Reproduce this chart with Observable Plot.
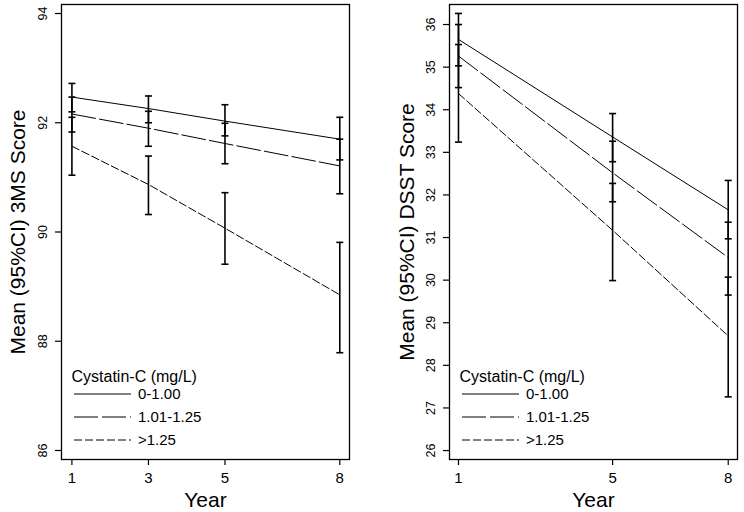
<!DOCTYPE html>
<html><head><meta charset="utf-8">
<script src="https://cdn.jsdelivr.net/npm/d3@7"></script>
<script src="https://cdn.jsdelivr.net/npm/@observablehq/plot@0.6"></script>
<style>
body{margin:0;background:#fff;}
#wrap{display:flex;width:744px;height:512px;overflow:hidden;}
#wrap svg{font-family:"Liberation Sans",Arial,sans-serif;display:block;}
</style></head><body><div id="wrap"></div>
<script>
// ---- text ----
const groups = ["0-1.00", "1.01-1.25", ">1.25"];
const legendTitle = "Cystatin-C (mg/L)";
const xTitle = "Year";
const msTitle = "Mean (95%CI) 3MS Score";
const dsstTitle = "Mean (95%CI) DSST Score";

// ---- 3MS panel ----
const msYears = [1, 3, 5, 8];
const msYTicks = [86, 88, 90, 92, 94];
const msMean1 = [92.47, 92.26, 92.03, 91.70];
const msLo1   = [92.20, 92.00, 91.76, 91.32];
const msHi1   = [92.72, 92.49, 92.33, 92.10];
const msMean2 = [92.16, 91.90, 91.62, 91.21];
const msLo2   = [91.83, 91.57, 91.25, 90.70];
const msHi2   = [92.47, 92.21, 91.99, 91.70];
const msMean3 = [91.57, 90.87, 90.07, 88.85];
const msLo3   = [91.04, 90.32, 89.41, 87.79];
const msHi3   = [92.10, 91.39, 90.72, 89.81];

// ---- DSST panel ----
const dsstYears = [1, 5, 8];
const dsstYTicks = [26, 27, 28, 29, 30, 31, 32, 33, 34, 35, 36];
const dsMean1 = [35.65, 33.36, 31.65];
const dsLo1   = [35.03, 32.78, 30.97];
const dsHi1   = [36.26, 33.91, 32.34];
const dsMean2 = [35.26, 32.52, 30.53];
const dsLo2   = [34.52, 31.84, 29.65];
const dsHi2   = [36.00, 33.26, 31.36];
const dsMean3 = [34.38, 31.17, 28.69];
const dsLo3   = [33.24, 29.99, 27.26];
const dsHi3   = [35.53, 32.27, 30.07];

const dashes = [null, "24,4", "8,3"];

function rowsOf(years, means, los, his) {
  const rows = [];
  groups.forEach((g, gi) => years.forEach((yr, i) => rows.push({group: g, gi, year: yr, mean: means[gi][i], lo: los[gi][i], hi: his[gi][i]})));
  return rows;
}

const capSymbol = {draw(ctx) { ctx.moveTo(-3.5, 0); ctx.lineTo(3.5, 0); }};

function legendMark(index, scales, values, dims) {
  const g = d3.create("svg:g").attr("fill", "black").attr("text-anchor", "start")
    .attr("font-family", "Liberation Sans, Arial, sans-serif");
  const x0 = dims.marginLeft, yb = dims.height - dims.marginBottom;
  g.append("text").attr("x", x0 + 10.5).attr("y", yb - 77.5).attr("font-size", 16).text(legendTitle);
  groups.forEach((name, i) => {
    const y = yb - 65 + i * 23;
    const ln = g.append("line").attr("x1", x0 + 13).attr("x2", x0 + 70).attr("y1", y).attr("y2", y)
      .attr("stroke", "black").attr("stroke-width", 1);
    if (dashes[i]) ln.attr("stroke-dasharray", dashes[i]);
    g.append("text").attr("x", x0 + 77).attr("y", y + 5.4).attr("font-size", 15).text(name);
  });
  return g.node();
}

function panel({rows, years, yTicks, xDomain, yDomain, title, width, marginLeft, marginRight, titleDx}) {
  const lines = groups.map((g, i) => Plot.line(rows.filter(d => d.gi === i), {
    x: "year", y: "mean", stroke: "black", strokeWidth: 1, strokeDasharray: dashes[i] || undefined
  }));
  return Plot.plot({
    width, height: 512,
    marginLeft, marginRight, marginTop: 4, marginBottom: 53,
    x: {domain: xDomain},
    y: {domain: yDomain},
    style: {fontFamily: "Liberation Sans, Arial, sans-serif", color: "black", background: "white"},
    marks: [
      Plot.frame({stroke: "black", strokeWidth: 1.3}),
      ...lines,
      Plot.ruleX(rows, {x: "year", y1: "lo", y2: "hi", stroke: "black", strokeWidth: 1.6}),
      Plot.dot(rows, {x: "year", y: "lo", symbol: capSymbol, stroke: "black", fill: "none", strokeWidth: 1.6}),
      Plot.dot(rows, {x: "year", y: "hi", symbol: capSymbol, stroke: "black", fill: "none", strokeWidth: 1.6}),
      Plot.axisX(years, {tickSize: 6, tickPadding: 7, fontSize: 15, label: null, tickFormat: d => String(d), stroke: "black", strokeWidth: 1.2}),
      Plot.axisY(yTicks, {tickSize: 6, tickPadding: 9, tickRotate: -90, fontSize: 12.5, label: null, tickFormat: d => String(d), stroke: "black", strokeWidth: 1.2}),
      Plot.text([xTitle], {frameAnchor: "bottom", dy: 41, fontSize: 21, text: d => d, textAnchor: "middle", lineAnchor: "middle"}),
      Plot.text([title], {frameAnchor: "left", dx: titleDx, rotate: -90, fontSize: 21, text: d => d, textAnchor: "middle", lineAnchor: "middle"}),
      legendMark
    ]
  });
}

const wrap = document.getElementById("wrap");
wrap.append(panel({
  rows: rowsOf(msYears, [msMean1, msMean2, msMean3], [msLo1, msLo2, msLo3], [msHi1, msHi2, msHi3]),
  years: msYears, yTicks: msYTicks, xDomain: [0.728, 8.254], yDomain: [85.835, 94.165],
  title: msTitle, width: 372, marginLeft: 61, marginRight: 23, titleDx: -43
}));
wrap.append(panel({
  rows: rowsOf(dsstYears, [dsMean1, dsMean2, dsMean3], [dsLo1, dsLo2, dsLo3], [dsHi1, dsHi2, dsHi3]),
  years: dsstYears, yTicks: dsstYTicks, xDomain: [0.767, 8.241], yDomain: [25.79, 36.47],
  title: dsstTitle, width: 372, marginLeft: 77, marginRight: 7, titleDx: -42
}));
</script>
</body></html>
